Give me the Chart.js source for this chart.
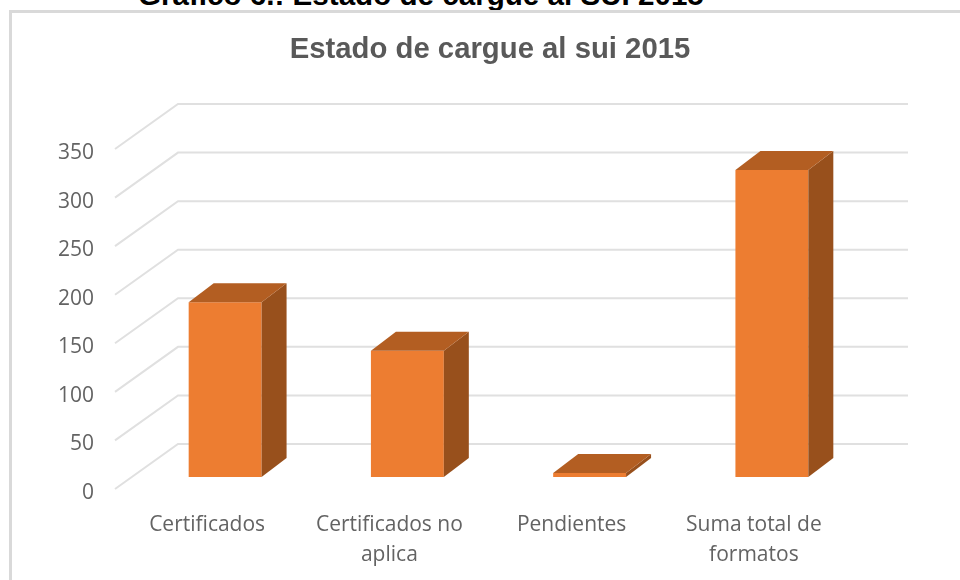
<!DOCTYPE html>
<html lang="es">
<head>
<meta charset="utf-8">
<style>
html,body{margin:0;padding:0;width:960px;height:580px;overflow:hidden;background:#fff}
#frame{position:absolute;left:9px;top:10px;width:1000px;height:640px;border:3px solid #d9d9d9;box-sizing:border-box}
#caption{position:absolute;left:138px;top:-19px;font:bold 29.6px "Liberation Sans",Arial,sans-serif;color:#000;white-space:nowrap;line-height:28px}
#wrap{position:absolute;left:0;top:0;width:960px;height:580px}
</style>
<script src="https://cdn.jsdelivr.net/npm/chart.js@4/dist/chart.umd.min.js"></script>
</head>
<body>
<div id="caption">Gráfico 6.: Estado de cargue al SUI 2015</div>
<div id="frame"></div>
<div id="wrap"><canvas id="c" width="960" height="580"></canvas></div>
<script>
const categories = [["Certificados"], ["Certificados no", "aplica"], ["Pendientes"], ["Suma total de", "formatos"]];
const values = [180, 130, 4, 316];
const chartTitle = "Estado de cargue al sui 2015";
const frontColor = "#ed7d31";
const topColor = "#b35e22";
const sideColor = "#98501c";
const gridColor = "#e0e0e0";
const textColor = "#636363";

const depth3d = {
  id: "depth3d",
  afterLayout(chart) {
    chart.titleBlock.left += 117;
  },
  beforeDatasetsDraw(chart) {
    const { ctx, scales: { y }, chartArea: a } = chart;
    ctx.save();
    ctx.strokeStyle = gridColor;
    ctx.lineWidth = 2;
    y.ticks.forEach(t => {
      const py = y.getPixelForValue(t.value);
      ctx.beginPath();
      ctx.moveTo(a.left - 19, py + 12);
      ctx.lineTo(a.left + 44, py - 33);
      ctx.lineTo(a.right + 45, py - 33);
      ctx.stroke();
    });
    ctx.restore();
  },
  afterDatasetsDraw(chart) {
    const { ctx } = chart;
    const dx = 25, dy = -19;
    ctx.save();
    chart.getDatasetMeta(0).data.forEach(bar => {
      const l = bar.x - bar.width / 2, r = bar.x + bar.width / 2, t = bar.y, b = bar.base;
      ctx.fillStyle = sideColor;
      ctx.beginPath();
      ctx.moveTo(r, t); ctx.lineTo(r + dx, t + dy); ctx.lineTo(r + dx, b + dy); ctx.lineTo(r, b);
      ctx.closePath(); ctx.fill();
      ctx.fillStyle = topColor;
      ctx.beginPath();
      ctx.moveTo(l, t); ctx.lineTo(l + dx, t + dy); ctx.lineTo(r + dx, t + dy); ctx.lineTo(r, t);
      ctx.closePath(); ctx.fill();
    });
    ctx.restore();
  }
};

new Chart(document.getElementById("c"), {
  type: "bar",
  plugins: [depth3d],
  data: {
    labels: categories,
    datasets: [{ data: values, backgroundColor: frontColor, borderWidth: 0, barPercentage: 0.4, categoryPercentage: 1 }]
  },
  options: {
    responsive: false,
    animation: false,
    layout: { padding: { left: 0, right: 97, top: 0, bottom: 0 } },
    plugins: {
      legend: { display: false },
      tooltip: { enabled: false },
      title: {
        display: true,
        text: chartTitle,
        color: "#595959",
        font: { family: '"Liberation Sans", Arial, sans-serif', size: 29.3, weight: "bold", lineHeight: 1.2 },
        padding: { top: 32.5, bottom: 69.34 }
      }
    },
    scales: {
      y: {
        min: 0, max: 350,
        grid: { display: false, drawTicks: false },
        border: { display: false },
        afterFit(s) { s.width = 134; },
        ticks: {
          stepSize: 50, padding: 40, labelOffset: 16, color: textColor,
          font: { family: '"Open Sans", sans-serif', size: 21 }
        }
      },
      x: {
        grid: { display: false, drawTicks: false },
        border: { display: false },
        afterFit(s) { s.height = 103; },
        ticks: {
          padding: 33, labelOffset: -18, color: textColor, maxRotation: 0, autoSkip: false,
          font: { family: '"Open Sans", sans-serif', size: 21, lineHeight: 1.43 }
        }
      }
    }
  }
});
</script>
</body>
</html>
